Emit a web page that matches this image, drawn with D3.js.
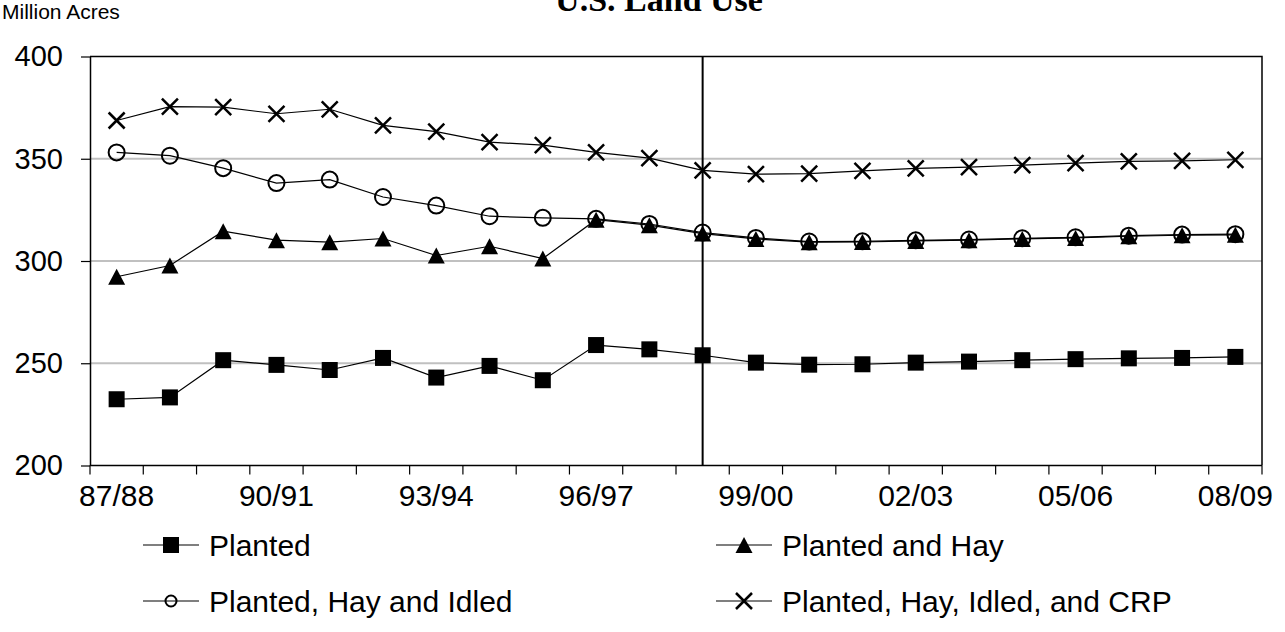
<!DOCTYPE html>
<html>
<head>
<meta charset="utf-8">
<script src="https://cdn.jsdelivr.net/npm/d3@7"></script>
<style>
    body { margin: 0; background: #fff; }
    svg { display: block; }
    text { font-family: 'Liberation Sans', Arial, sans-serif; fill: #000; }
</style>
</head>
<body>
<div id="chart"></div>
<script>
// crop years, one value per year for each series (million acres)
const years = ['87/88', '88/89', '89/90', '90/91', '91/92', '92/93', '93/94', '94/95', '95/96', '96/97', '97/98',
               '98/99', '99/00', '00/01', '01/02', '02/03', '03/04', '04/05', '05/06', '06/07', '07/08', '08/09'];
const labelYears = ['87/88', '90/91', '93/94', '96/97', '99/00', '02/03', '05/06', '08/09'];
const yTicks = [200, 250, 300, 350, 400];
const markerYear = '98/99';

const planted = [232.4, 233.3, 251.5, 249.2, 246.7, 252.6, 243.0, 248.7, 241.7, 258.9, 256.8,
                 253.9, 250.3, 249.3, 249.5, 250.3, 250.8, 251.5, 252.0, 252.4, 252.6, 253.1];
const plantedHay = [292.3, 297.8, 314.6, 310.2, 309.2, 311.0, 302.7, 307.2, 301.2, 320.2, 317.5,
                    313.4, 310.8, 309.2, 309.3, 309.8, 310.2, 310.8, 311.3, 312.1, 312.6, 312.8];
const plantedHayIdled = [353.1, 351.5, 345.4, 338.1, 339.8, 331.3, 327.1, 321.9, 321.1, 320.6, 318.1,
                         313.9, 311.3, 309.5, 309.6, 310.1, 310.5, 311.1, 311.6, 312.4, 312.9, 313.1];
const plantedHayIdledCrp = [368.7, 375.5, 375.2, 372.0, 374.2, 366.3, 363.3, 358.1, 356.7, 353.1, 350.3,
                            344.3, 342.5, 342.7, 344.1, 345.3, 345.9, 346.9, 347.9, 348.7, 349.0, 349.5];

const seriesNames = ['Planted', 'Planted and Hay', 'Planted, Hay and Idled', 'Planted, Hay, Idled, and CRP'];
const seriesValues = [planted, plantedHay, plantedHayIdled, plantedHayIdledCrp];
const seriesMarkers = ['square', 'triangle', 'circle', 'cross'];

const width = 1285, height = 632;
const plot = { left: 90, right: 1262, top: 56.5, bottom: 465.5 };

const svg = d3.select('#chart').append('svg')
    .attr('width', width)
    .attr('height', height);

const x = d3.scaleBand().domain(years).range([plot.left, plot.right]);
const cx = d => x(d) + x.bandwidth() / 2;
const y = d3.scaleLinear().domain([200, 400]).range([plot.bottom, plot.top]);

// titles (chart title is clipped by the top edge, as in the source)
svg.append('text')
    .attr('x', 659)
    .attr('y', 11)
    .attr('text-anchor', 'middle')
    .style('font-family', "'Liberation Serif', 'Times New Roman', serif")
    .style('font-weight', 'bold')
    .style('font-size', '34px')
    .text('U.S. Land Use');

svg.append('text')
    .attr('x', 2)
    .attr('y', 19)
    .style('font-size', '21px')
    .text('Million Acres');

// gridlines
svg.append('g').selectAll('line')
    .data([250, 300, 350])
    .enter()
    .append('line')
    .attr('x1', plot.left).attr('x2', plot.right)
    .attr('y1', d => y(d)).attr('y2', d => y(d))
    .attr('stroke', '#c0c0c0')
    .attr('stroke-width', 2);

// frame: top and right
svg.append('path')
    .attr('d', `M${plot.left},${y(400)}H${plot.right}V${y(200)}`)
    .attr('fill', 'none')
    .attr('stroke', '#000')
    .attr('stroke-width', 1.5);

// y axis
const yAxis = svg.append('g')
    .attr('transform', `translate(${plot.left},0)`)
    .call(d3.axisLeft(y).tickValues(yTicks).tickSize(9).tickPadding(18).tickSizeOuter(0));
yAxis.select('.domain').attr('stroke-width', 1.5);
yAxis.selectAll('.tick line').attr('stroke-width', 1.2);
yAxis.selectAll('.tick text')
    .style('font-family', "'Liberation Sans', Arial, sans-serif")
    .style('font-size', '29px');

// x axis: ticks between categories, labels every third year
const boundaries = years.map(d => x(d)).concat([plot.right]);
const xAxis = svg.append('g');
xAxis.append('line')
    .attr('x1', plot.left).attr('x2', plot.right)
    .attr('y1', y(200)).attr('y2', y(200))
    .attr('stroke', '#000')
    .attr('stroke-width', 1.5);
xAxis.selectAll('.xtick')
    .data(boundaries)
    .enter()
    .append('line')
    .attr('class', 'xtick')
    .attr('x1', d => d).attr('x2', d => d)
    .attr('y1', y(200)).attr('y2', y(200) + 9)
    .attr('stroke', '#000')
    .attr('stroke-width', 1.2);
xAxis.selectAll('.xlabel')
    .data(labelYears)
    .enter()
    .append('text')
    .attr('class', 'xlabel')
    .attr('x', d => cx(d))
    .attr('y', y(200) + 40)
    .attr('text-anchor', 'middle')
    .style('font-size', '30px')
    .text(d => d);

// marker drawing
function drawMarker(g, type, size) {
    const s = size / 2;
    if (type === 'square') {
        g.append('rect')
            .attr('x', -s).attr('y', -s)
            .attr('width', size).attr('height', size)
            .attr('fill', '#000');
    } else if (type === 'triangle') {
        g.append('path')
            .attr('d', `M0,${-s}L${s + 0.5},${s}L${-s - 0.5},${s}Z`)
            .attr('fill', '#000');
    } else if (type === 'circle') {
        g.append('circle')
            .attr('r', s - 1)
            .attr('fill', 'none')
            .attr('stroke', '#000')
            .attr('stroke-width', 2);
    } else {
        g.append('path')
            .attr('d', `M${-s},${-s}L${s},${s}M${-s},${s}L${s},${-s}`)
            .attr('stroke', '#000')
            .attr('stroke-width', 2.5);
    }
}

const line = d3.line()
    .x((d, i) => cx(years[i]))
    .y(d => y(d));

seriesValues.forEach((vals, k) => {
    const g = svg.append('g').attr('class', 'series');
    g.append('path')
        .attr('d', line(vals))
        .attr('fill', 'none')
        .attr('stroke', '#000')
        .attr('stroke-width', 1.2);
    g.selectAll('.pt')
        .data(vals)
        .enter()
        .append('g')
        .attr('class', 'pt')
        .attr('transform', (d, i) => `translate(${cx(years[i])},${y(d)})`)
        .each(function () { drawMarker(d3.select(this), seriesMarkers[k], seriesMarkers[k] === 'circle' ? 18 : 16); });
});

// vertical line at 98/99
svg.append('line')
    .attr('x1', cx(markerYear)).attr('x2', cx(markerYear))
    .attr('y1', y(400)).attr('y2', y(200))
    .attr('stroke', '#000')
    .attr('stroke-width', 2);

// legend, two columns
const legendPos = [[143, 545], [716, 545], [143, 601], [716, 601]];
seriesNames.forEach((name, k) => {
    const [lx, ly] = legendPos[k];
    const item = svg.append('g')
        .attr('class', 'legend-item')
        .attr('transform', `translate(${lx},${ly})`);
    item.append('line')
        .attr('x1', 0).attr('x2', 56)
        .attr('stroke', '#000')
        .attr('stroke-width', 1.2);
    const m = item.append('g').attr('transform', 'translate(28,0)');
    drawMarker(m, seriesMarkers[k], seriesMarkers[k] === 'circle' ? 13 : 16);
    item.append('text')
        .attr('x', 66)
        .attr('y', 11)
        .style('font-size', '30px')
        .text(name);
});
</script>
</body>
</html>
